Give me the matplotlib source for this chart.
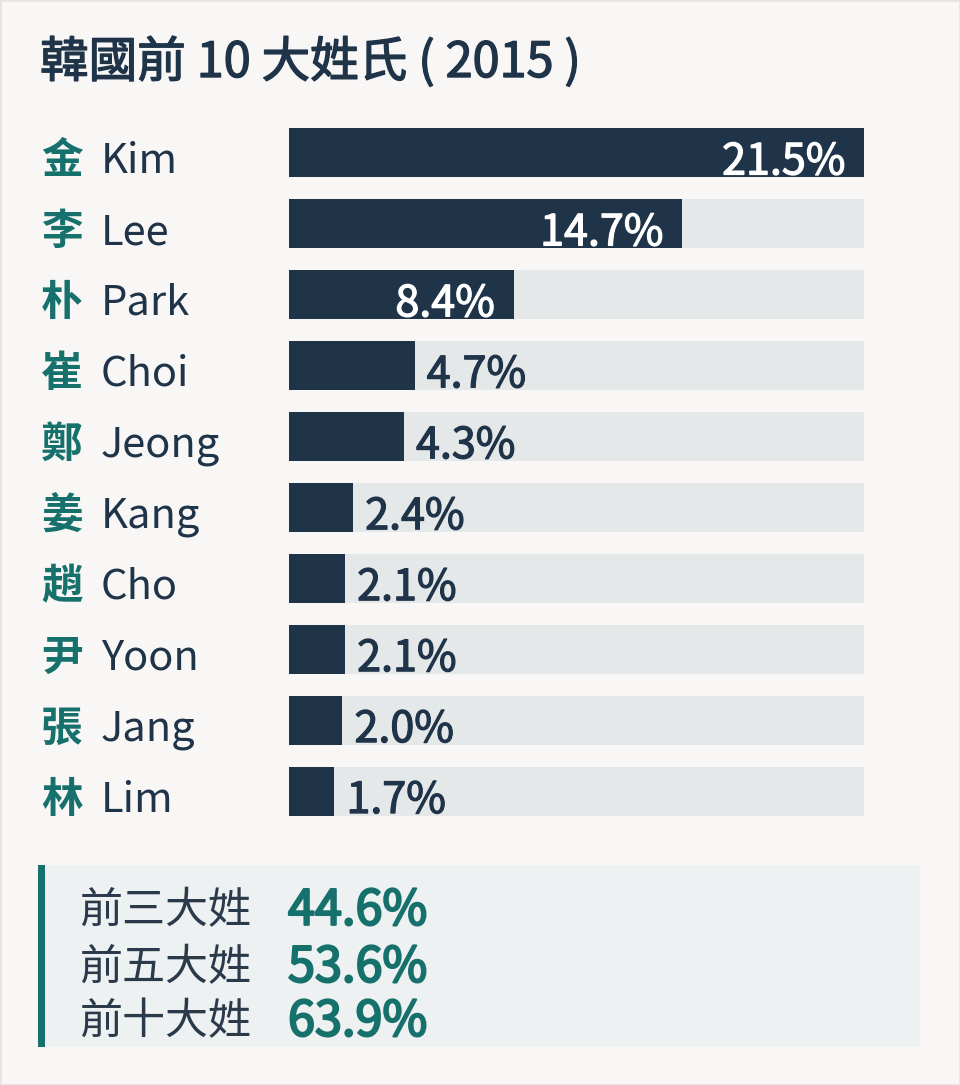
import matplotlib
matplotlib.use("Agg")
import matplotlib.pyplot as plt
from matplotlib.patches import Rectangle
from matplotlib.transforms import blended_transform_factory, offset_copy
import matplotlib.patheffects as pe

plt.rcParams['font.family'] = ['Noto Sans CJK TC', 'DejaVu Sans']

# ---- data ----
hanja = ["金", "李", "朴", "崔", "鄭", "姜", "趙", "尹", "張", "林"]
names = ["Kim", "Lee", "Park", "Choi", "Jeong", "Kang", "Cho", "Yoon", "Jang", "Lim"]
shares = [21.5, 14.7, 8.4, 4.7, 4.3, 2.4, 2.1, 2.1, 2.0, 1.7]
summary_labels = ["前三大姓", "前五大姓", "前十大姓"]
summary_values = [44.6, 53.6, 63.9]
title = "韓國前 10 大姓氏 ( 2015 )"

NAVY = "#1f3349"
TEAL = "#16706b"
TRACK = "#e5e8e8"
BG = "#f9f7f6"
BOX = "#eef1f1"

W, H = 960, 1085
fig = plt.figure(figsize=(W / 100, H / 100), dpi=100, facecolor=BG)

def fx(px):
    return px / W

def fy(py):
    return 1 - py / H

# border
fig.patches.append(Rectangle((0, 0), 1, 1, transform=fig.transFigure,
                             facecolor="none", edgecolor="#e6e3e1", lw=2))

# title
fig.text(fx(40), fy(77), title, fontsize=35, color=NAVY, va="baseline", ha="left",
         path_effects=[pe.withStroke(linewidth=1.0, foreground=NAVY)])

# bar axes
top_px, bot_px = 117, 826.5
ax = fig.add_axes([fx(289), fy(bot_px), fx(864) - fx(289), (bot_px - top_px) / H])
ax.set_facecolor("none")
n = len(shares)
ypos = list(range(n))
vmax = max(shares)
bh = 0.69
ax.barh(ypos, [vmax] * n, height=bh, color=TRACK, zorder=1)
ax.barh(ypos, shares, height=bh, color=NAVY, zorder=2)
ax.set_xlim(0, vmax)
ax.set_ylim(n - 0.5, -0.5)
ax.axis("off")

lab_tr = blended_transform_factory(fig.transFigure, ax.transData)
for i, (h, nm, v) in enumerate(zip(hanja, names, shares)):
    yb = i + 0.29
    ax.text(fx(41), yb, h, transform=lab_tr, fontsize=30, color=TEAL,
            va="baseline", ha="left", fontweight="bold")
    ax.text(fx(101), yb, nm, transform=lab_tr, fontsize=30, color=NAVY,
            va="baseline", ha="left")
    label = f"{v:.1f}%"
    stroke = [pe.withStroke(linewidth=0.9, foreground=("white" if v > 8 else NAVY))]
    if v > 8:
        tr = offset_copy(ax.transData, fig=fig, x=-19, y=0, units="dots")
        ax.text(v, i + 0.31, label, transform=tr, fontsize=31, color="white",
                va="baseline", ha="right", zorder=3, path_effects=stroke)
    else:
        tr = offset_copy(ax.transData, fig=fig, x=12, y=0, units="dots")
        ax.text(v, i + 0.31, label, transform=tr, fontsize=31, color=NAVY,
                va="baseline", ha="left", zorder=3, path_effects=stroke)

# summary box
fig.patches.append(Rectangle((fx(40), fy(1047)), fx(920) - fx(40), (1047 - 865) / H,
                             transform=fig.transFigure, facecolor=BOX, edgecolor="none"))
fig.patches.append(Rectangle((fx(38), fy(1047)), fx(7), (1047 - 865) / H,
                             transform=fig.transFigure, facecolor=TEAL, edgecolor="none"))
rows_y = [911, 968, 1022]
for yy, lab, val in zip(rows_y, summary_labels, summary_values):
    fig.text(fx(79), fy(yy), lab, fontsize=31, color="#2b3a4a",
             va="center", ha="left")
    fig.text(fx(288), fy(yy), f"{val:.1f}%", fontsize=35, color=TEAL,
             va="center", ha="left",
             path_effects=[pe.withStroke(linewidth=1.6, foreground=TEAL)])

fig.savefig("out.png", dpi=100, facecolor=BG)
